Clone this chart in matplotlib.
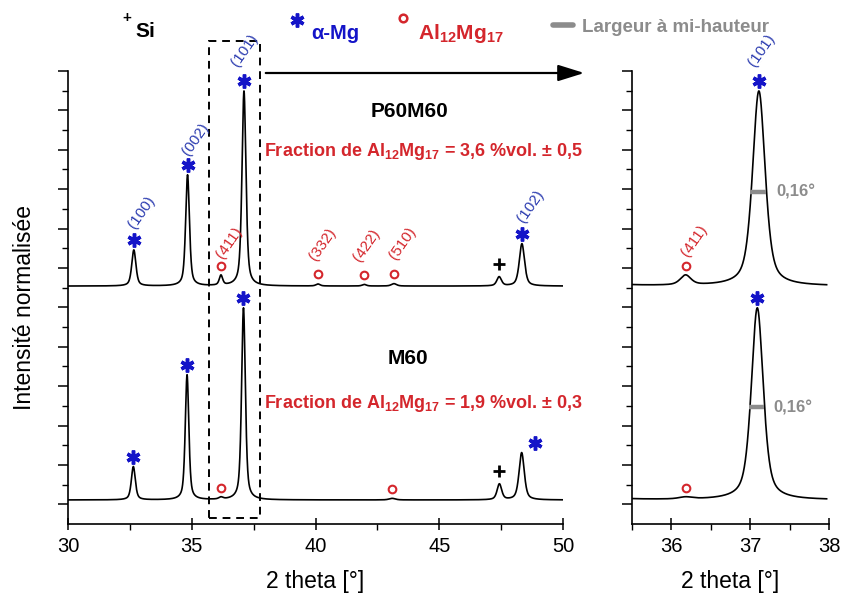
import numpy as np
import matplotlib
matplotlib.use("Agg")
import matplotlib.pyplot as plt
from matplotlib.patches import Rectangle
from matplotlib.lines import Line2D

plt.rcParams['font.family'] = ['Liberation Sans', 'DejaVu Sans']
plt.rcParams['mathtext.fontset'] = 'custom'
plt.rcParams['mathtext.rm'] = 'Liberation Sans:bold'
plt.rcParams['mathtext.it'] = 'Liberation Sans:bold'
plt.rcParams['mathtext.bf'] = 'Liberation Sans:bold'
plt.rcParams['mathtext.default'] = 'rm'

# ---------------- data ----------------
# P60M60 (upper pattern): peak positions [deg], heights [norm.], FWHM [deg]
p60_base = 11.08
p60_pos = [32.66, 34.83, 37.11, 36.18, 40.10, 41.97, 43.17, 47.42, 48.34]
p60_height = [1.83, 5.64, 9.90, 0.50, 0.10, 0.08, 0.12, 0.46, 2.15]
p60_fwhm = [0.20, 0.18, 0.19, 0.16, 0.20, 0.20, 0.25, 0.22, 0.25]
p60_kind = ['Mg', 'Mg', 'Mg', 'Al', 'Al', 'Al', 'Al', 'Si', 'Mg']
p60_hkl = ['(100)', '(002)', '(101)', '(411)', '(332)', '(422)', '(510)', '', '(102)']

# M60 (lower pattern)
m60_base = 0.22
m60_pos = [32.64, 34.81, 37.09, 36.18, 43.10, 47.43, 48.33]
m60_height = [1.69, 6.35, 9.75, 0.10, 0.08, 0.80, 2.40]
m60_fwhm = [0.19, 0.17, 0.18, 0.20, 0.30, 0.22, 0.25]
m60_kind = ['Mg', 'Mg', 'Mg', 'Al', 'Al', 'Si', 'Mg']

fwhm_label = '0,16°'
frac_p60 = r'Fraction de Al$_{12}$Mg$_{17}$ = 3,6 %vol. ± 0,5'
frac_m60 = r'Fraction de Al$_{12}$Mg$_{17}$ = 1,9 %vol. ± 0,3'

BLUE = '#1414c8'
LBLUE = '#2c3cb0'
RED = '#d4262c'
GRAY = '#8c8c8c'

W, H = 841, 596


def pattern(x, base, pos, height, fwhm, eta=0.55):
    y = np.full_like(x, base, dtype=float)
    for p, h, w in zip(pos, height, fwhm):
        d = (x - p) / w
        g = np.exp(-4 * np.log(2) * d ** 2)
        l = 1.0 / (1.0 + 4 * d ** 2)
        y += h * (eta * l + (1 - eta) * g)
    return y


def fx(px):
    return px / W


def fy(py):
    return 1 - py / H


fig = plt.figure(figsize=(W / 100, H / 100), dpi=100)
bottom = fy(524)
height = fy(71) - bottom
axL = fig.add_axes([fx(68), bottom, (563 - 68) / W, height])
axR = fig.add_axes([fx(632), bottom, (829 - 632) / W, height])

xL = np.linspace(30, 50, 8001)
xR = np.linspace(35.5, 37.97, 4001)

for ax, xx in ((axL, xL), (axR, xR)):
    ax.plot(xx, pattern(xx, p60_base, p60_pos, p60_height, p60_fwhm), color='black', lw=1.2)
    ax.plot(xx, pattern(xx, m60_base, m60_pos, m60_height, m60_fwhm), color='black', lw=1.2)
    ax.set_ylim(-1, 22)
    for s in ('top', 'right'):
        ax.spines[s].set_visible(False)
    for s in ('left', 'bottom'):
        ax.spines[s].set_linewidth(1.2)
    ax.set_yticks(range(0, 23, 2))
    ax.set_yticks(range(1, 22, 2), minor=True)
    ax.tick_params(axis='y', which='major', direction='out', length=7, width=1.1, labelleft=False)
    ax.tick_params(axis='y', which='minor', direction='out', length=4, width=1.0)
    ax.tick_params(axis='x', which='major', direction='inout', length=9, width=1.1, labelsize=14.5, pad=5)
    ax.tick_params(axis='x', which='minor', direction='out', length=4, width=1.0)
    ax.set_xlabel('2 theta [°]', fontsize=16.5, labelpad=10)

axL.set_xlim(30, 50)
axL.set_xticks([30, 35, 40, 45, 50])
axL.set_xticks([32.5, 37.5, 42.5, 47.5], minor=True)
axR.set_xlim(35.5, 38)
axR.set_xticks([36, 37, 38])
axR.set_xticks([35.5, 36.5, 37.5], minor=True)


# peak symbols
def symbols(ax, base, pos, hgt, kinds, xlim, shift_last=0.0):
    for i, (p, h, k) in enumerate(zip(pos, hgt, kinds)):
        if not (xlim[0] <= p <= xlim[1]):
            continue
        y = base + h
        if k == 'Mg':
            dx = shift_last if i == len(pos) - 1 else 0.0
            ax.plot(p + dx, y + 0.5, marker=(6, 2, 0), ms=10, mew=2.5, color=BLUE, clip_on=False)
        elif k == 'Al':
            ax.plot(p, y + 0.5, marker='o', ms=5.5, mew=1.5, mfc='none', mec=RED, clip_on=False)
        else:
            ax.plot(p, y + 0.68, marker='+', ms=8, mew=2.0, color='black', clip_on=False)


symbols(axL, p60_base, p60_pos, p60_height, p60_kind, (30, 50))
symbols(axL, m60_base, m60_pos, m60_height, m60_kind, (30, 50), shift_last=0.55)
symbols(axR, p60_base, p60_pos, p60_height, p60_kind, (35.5, 38))
symbols(axR, m60_base, m60_pos, m60_height, m60_kind, (35.5, 38))

# hkl labels (pixel positions of label centres)
hkl_px_left = {'(100)': (142, 212), '(002)': (196, 139), '(101)': (245, 50), '(411)': (229, 243),
               '(332)': (323, 244), '(422)': (367, 245), '(510)': (403, 243), '(102)': (531, 206)}
for lab, k in zip(p60_hkl, p60_kind):
    if not lab:
        continue
    px, py = hkl_px_left[lab]
    fig.text(fx(px), fy(py), lab, rotation=55, ha='center', va='center', fontsize=11,
             color=LBLUE if k == 'Mg' else RED)
fig.text(fx(762), fy(50), '(101)', rotation=55, ha='center', va='center', fontsize=11, color=LBLUE)
fig.text(fx(694), fy(241), '(411)', rotation=55, ha='center', va='center', fontsize=11, color=RED)

# FWHM bars
for base, pos, hgt in ((p60_base, p60_pos, p60_height), (m60_base, m60_pos, m60_height)):
    yh = base + hgt[2] / 2 - 0.15
    axR.plot([pos[2] - 0.11, pos[2] + 0.09], [yh, yh], color=GRAY, lw=3.2, solid_capstyle='butt')
fig.text(fx(776), fy(192), fwhm_label, ha='left', va='center', fontsize=12, fontweight='bold', color=GRAY)
fig.text(fx(773), fy(408), fwhm_label, ha='left', va='center', fontsize=12, fontweight='bold', color=GRAY)

# sample names and fractions
fig.text(fx(410), fy(112), 'P60M60', ha='center', va='center', fontsize=15, fontweight='bold')
fig.text(fx(408), fy(358), 'M60', ha='center', va='center', fontsize=15, fontweight='bold')
fig.text(fx(423.5), fy(151), frac_p60, ha='center', va='center', fontsize=13, fontweight='bold', color=RED)
fig.text(fx(423.5), fy(403), frac_m60, ha='center', va='center', fontsize=13, fontweight='bold', color=RED)

# dashed zoom rectangle and arrow
rect = Rectangle((35.70, -0.72), 37.76 - 35.70, 23.52 + 0.72, fill=False, ls=(0, (4, 3)),
                 lw=1.4, ec='black', clip_on=False)
axL.add_patch(rect)
axL.annotate('', xy=(fx(587), fy(73)), xytext=(fx(263), fy(73)), xycoords='figure fraction',
             textcoords='figure fraction',
             arrowprops=dict(arrowstyle='-|>,head_length=1.6,head_width=0.5', color='black', lw=1.6))

# top legend
fig.text(fx(127), fy(18), '+', ha='center', va='center', fontsize=11, fontweight='bold')
fig.text(fx(135), fy(37), 'Si', ha='left', va='baseline', fontsize=15, fontweight='bold')
fig.add_artist(Line2D([fx(297)], [fy(20)], marker=(6, 2, 0), ms=10, mew=2.5, color=BLUE))
fig.text(fx(311), fy(39), 'α-Mg', ha='left', va='baseline', fontsize=14.5, fontweight='bold', color=BLUE)
fig.add_artist(Line2D([fx(403)], [fy(18)], marker='o', ms=5.5, mew=1.8, mfc='none', mec=RED))
fig.text(fx(418), fy(39), r'Al$_{12}$Mg$_{17}$', ha='left', va='baseline', fontsize=15,
         fontweight='bold', color=RED)
fig.add_artist(Line2D([fx(553), fx(573)], [fy(25), fy(25)], lw=4, color=GRAY, solid_capstyle='round'))
fig.text(fx(582), fy(32), 'Largeur à mi-hauteur', ha='left', va='baseline', fontsize=13.5,
         fontweight='bold', color=GRAY)

fig.text(fx(25), fy(308), 'Intensité normalisée', rotation=90, ha='center', va='center', fontsize=16.5)

fig.savefig('out.png', dpi=100)
